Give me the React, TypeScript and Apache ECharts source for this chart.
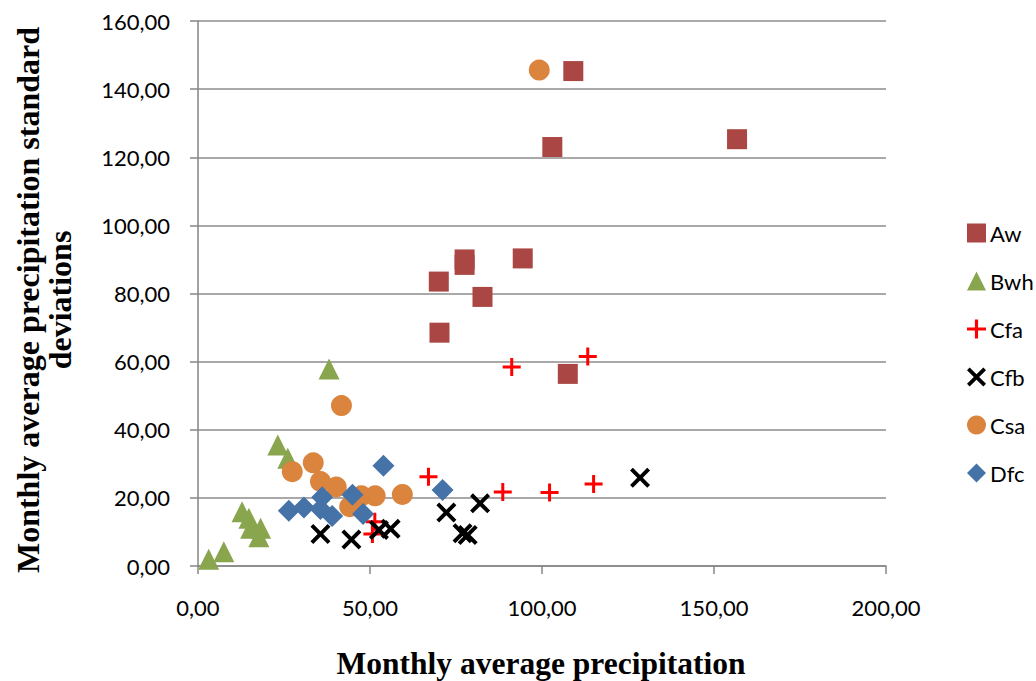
import React, { useEffect, useRef } from "react";
import * as echarts from "echarts";

const seriesNames = ["Aw", "Bwh", "Cfa", "Cfb", "Csa", "Dfc"];

const awData = [
  [70.2, 68.5], [70.0, 83.5], [77.5, 88.4], [77.5, 90.0], [82.7, 79.0],
  [94.4, 90.3], [103.0, 123.0], [109.1, 145.3], [156.7, 125.3], [107.5, 56.4],
];
const bwhData = [
  [38.1, 57.8], [23.2, 35.5], [26.1, 31.6], [12.8, 15.9], [14.8, 14.0],
  [15.3, 11.1], [18.2, 11.1], [17.7, 8.6], [7.5, 4.2], [3.1, 2.0],
];
const cfaData = [
  [91.2, 58.4], [113.3, 61.5], [67.0, 26.2], [88.6, 21.7], [102.2, 21.6],
  [115.0, 24.1], [51.4, 13.0], [50.7, 9.4],
];
const cfbData = [
  [35.6, 9.4], [44.6, 7.8], [52.6, 10.6], [56.0, 10.9], [72.2, 15.7],
  [76.9, 9.6], [78.4, 9.1], [82.0, 18.4], [128.5, 25.9],
];
const csaData = [
  [41.7, 47.1], [27.4, 27.7], [33.5, 30.3], [35.6, 24.8], [40.2, 23.2],
  [44.1, 17.4], [47.5, 20.6], [51.5, 20.6], [59.4, 21.0], [99.2, 145.6],
];
const dfcData = [
  [53.9, 29.4], [71.1, 22.3], [26.4, 16.2], [30.8, 17.2], [36.1, 20.2],
  [35.6, 16.7], [39.0, 14.7], [44.9, 20.9], [48.0, 15.3],
];

const xTicks = [0, 50, 100, 150, 200];
const yTicks = [0, 20, 40, 60, 80, 100, 120, 140, 160];

const colors = ["#AA4643", "#89A54E", "#FF0000", "#000000", "#DB843D", "#4572A7"];

const plusPath = "path://M7.5,0H10.5V7.5H18V10.5H10.5V18H7.5V10.5H0V7.5H7.5Z";
const crossPath =
  "path://M0,2.8L2.8,0L10,7.2L17.2,0L20,2.8L12.8,10L20,17.2L17.2,20L10,12.8L2.8,20L0,17.2L7.2,10Z";

const fmt = (v: number) => v.toFixed(2).replace(".", ",");

export default function App() {
  const ref = useRef<HTMLDivElement>(null);
  useEffect(() => {
    if (!ref.current) return;
    const chart = echarts.init(ref.current, undefined, { renderer: "svg" });
    const datasets = [awData, bwhData, cfaData, cfbData, csaData, dfcData];
    const symbols = ["rect", "triangle", plusPath, crossPath, "circle", "diamond"];
    const sizes = [20, 21, 18, 20, 21, 22];
    chart.setOption({
      animation: false,
      backgroundColor: "#ffffff",
      grid: { left: 198, right: 150, top: 21, bottom: 115, containLabel: false },
      xAxis: {
        type: "value",
        min: xTicks[0],
        max: xTicks[xTicks.length - 1],
        interval: 50,
        axisLine: { show: true, lineStyle: { color: "#868686", width: 1.5 } },
        axisTick: { show: true, length: 8, lineStyle: { color: "#868686", width: 1.5 } },
        splitLine: { show: false },
        axisLabel: {
          formatter: (v: number) => fmt(v),
          color: "#000",
          fontFamily: "Lato",
          fontSize: 22,
          margin: 30,
        },
      },
      yAxis: {
        type: "value",
        min: yTicks[0],
        max: yTicks[yTicks.length - 1],
        interval: 20,
        axisLine: { show: true, lineStyle: { color: "#868686", width: 1.5 } },
        axisTick: { show: true, length: 8, lineStyle: { color: "#868686", width: 1.5 } },
        splitLine: { show: true, lineStyle: { color: "#8c8c8c", width: 1.5 } },
        axisLabel: {
          formatter: (v: number) => fmt(v),
          color: "#000",
          fontFamily: "Lato",
          fontSize: 22,
          margin: 28,
        },
      },
      legend: {
        orient: "vertical",
        left: 962,
        top: 217,
        itemWidth: 19,
        itemHeight: 19,
        itemGap: 26,
        data: seriesNames,
        textStyle: { fontFamily: "Lato", fontSize: 22, color: "#000", padding: [0, 0, 0, -1] },
      },
      graphic: [
        {
          type: "text",
          x: 541,
          y: 663,
          style: {
            text: "Monthly average precipitation",
            fontFamily: "Liberation Serif",
            fontWeight: "bold",
            fontSize: 31.5,
            fill: "#000",
            align: "center",
            verticalAlign: "middle",
          },
        },
        {
          type: "text",
          x: 44,
          y: 300,
          rotation: Math.PI / 2,
          style: {
            text: "Monthly average precipitation standard\ndeviations",
            fontFamily: "Liberation Serif",
            fontWeight: "bold",
            fontSize: 32,
            lineHeight: 32,
            fill: "#000",
            align: "center",
            verticalAlign: "middle",
          },
        },
      ],
      series: seriesNames.map((name, i) => ({
        name,
        type: "scatter",
        data: datasets[i],
        symbol: symbols[i],
        symbolSize: sizes[i],
        itemStyle: { color: colors[i], opacity: 1 },
      })),
    });
    return () => chart.dispose();
  }, []);
  return <div ref={ref} style={{ width: 1036, height: 681, position: "absolute", left: 0, top: 0 }} />;
}
